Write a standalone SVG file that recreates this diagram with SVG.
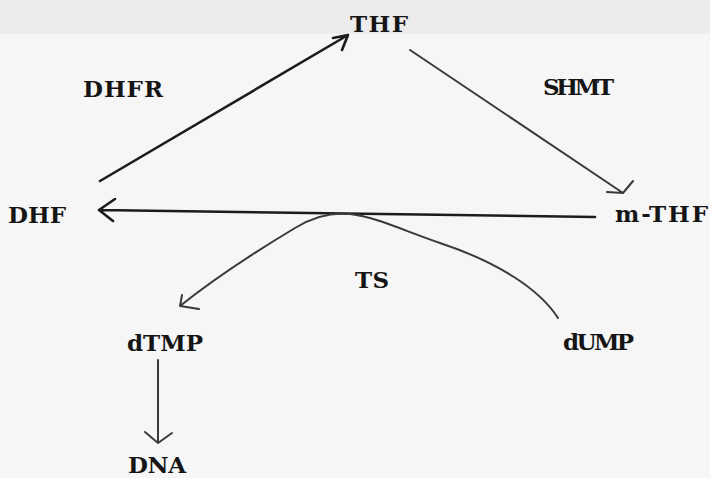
<svg xmlns="http://www.w3.org/2000/svg" width="710" height="478" viewBox="0 0 710 478">
<style>
.lbl{font-family:"DejaVu Serif","Liberation Serif",serif;font-weight:bold;font-size:23px;fill:#151515}
.ln{fill:none;stroke:#1c1c1c;stroke-width:2.6;stroke-linecap:round;stroke-linejoin:round}
.thin{fill:none;stroke:#3a3a3a;stroke-width:2;stroke-linecap:round;stroke-linejoin:round}
</style>
<rect x="0" y="0" width="710" height="478" fill="#f6f6f6"/>
<rect x="0" y="0" width="710" height="34" fill="#ececec"/>
<g id="THF"><text class="lbl" x="350" y="32" textLength="58" lengthAdjust="spacing">THF</text></g>
<g id="DHFR"><text class="lbl" x="83" y="97" textLength="80" lengthAdjust="spacing">DHFR</text></g>
<g id="SHMT"><text class="lbl" x="543" y="95" textLength="71" lengthAdjust="spacing">SHMT</text></g>
<g id="DHF"><text class="lbl" x="8" y="223" textLength="58" lengthAdjust="spacing">DHF</text></g>
<g id="mTHF"><text class="lbl" x="615" y="222" textLength="93" lengthAdjust="spacing">m-THF</text></g>
<g id="TS"><text class="lbl" x="355" y="288" textLength="34" lengthAdjust="spacing">TS</text></g>
<g id="dTMP"><text class="lbl" x="127" y="351" textLength="76" lengthAdjust="spacing">dTMP</text></g>
<g id="dUMP"><text class="lbl" x="563" y="350" textLength="71" lengthAdjust="spacing">dUMP</text></g>
<g id="DNA"><text class="lbl" x="128" y="473" textLength="58" lengthAdjust="spacing">DNA</text></g>
<g id="connectors">
<path class="ln" d="M100,181 L348,35 M333,38 L348,35 L342,50"/>
<path class="thin" d="M410,50 L623,193 M607,192 L623,193 L633,181"/>
<path class="ln" stroke-width="3" d="M595,217 L99,210 M115,199 L99,210 L113,221"/>
<path class="thin" d="M558,318 C540,290 500,263 440,243 C400,229 375,217 350,214 C332,212 315,216 295,228 C255,252 215,278 180,306 M182,295 L180,306 L199,309"/>
<path class="thin" d="M158,360 L158,443 M145,432 L158,443 L172,433"/>
</g>
</svg>
